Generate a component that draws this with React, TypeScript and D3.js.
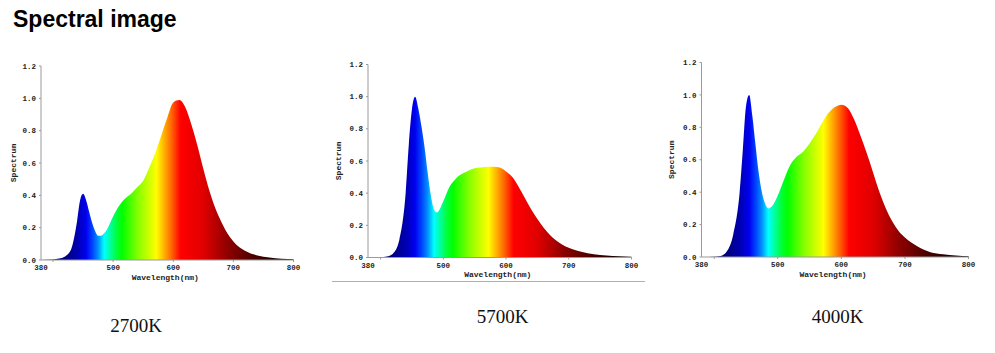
import React from "react";
import * as d3 from "d3";

// ---------- data ----------
const wavelengths = [380, 400, 410, 420, 430, 440, 445, 450, 455, 460, 465, 470, 475, 480, 485, 490, 500, 510, 520, 530, 540, 550, 560, 570, 580, 590, 600, 610, 620, 630, 640, 650, 660, 670, 680, 690, 700, 720, 740, 760, 780, 800];

const spectrum2700K = [0, 0.003, 0.009, 0.022, 0.065, 0.24, 0.37, 0.41, 0.37, 0.30, 0.23, 0.18, 0.15, 0.15, 0.165, 0.19, 0.27, 0.335, 0.38, 0.41, 0.45, 0.49, 0.57, 0.66, 0.77, 0.88, 0.975, 0.99, 0.945, 0.84, 0.71, 0.565, 0.43, 0.32, 0.235, 0.165, 0.115, 0.055, 0.028, 0.015, 0.008, 0.005];

const spectrum5700K = [0, 0.002, 0.006, 0.025, 0.11, 0.40, 0.70, 0.92, 1.0, 0.93, 0.82, 0.69, 0.53, 0.39, 0.30, 0.28, 0.35, 0.44, 0.49, 0.52, 0.54, 0.555, 0.56, 0.565, 0.565, 0.56, 0.535, 0.50, 0.44, 0.37, 0.30, 0.24, 0.185, 0.14, 0.105, 0.08, 0.06, 0.035, 0.02, 0.012, 0.007, 0.004];

const spectrum4000K = [0, 0.002, 0.006, 0.035, 0.14, 0.40, 0.66, 0.93, 1.0, 0.87, 0.69, 0.52, 0.40, 0.33, 0.30, 0.31, 0.38, 0.48, 0.57, 0.62, 0.65, 0.70, 0.76, 0.83, 0.89, 0.925, 0.94, 0.92, 0.85, 0.75, 0.64, 0.52, 0.40, 0.30, 0.22, 0.16, 0.12, 0.065, 0.03, 0.017, 0.009, 0.005];

const chartLabels = ["2700K", "5700K", "4000K"];
const yTickValues = [0, 0.2, 0.4, 0.6, 0.8, 1.0, 1.2];
const xTickMarks = [400, 500, 600, 700, 800];
const xTickLabels = [380, 500, 600, 700, 800];
const titleText = "Spectral image";

// ---------- styles ----------
const colorStops: [number, string][] = [
  [380, "#000050"],
  [420, "#000080"],
  [440, "#0000b0"],
  [455, "#0000f0"],
  [465, "#0040ff"],
  [475, "#0090ff"],
  [485, "#00ffff"],
  [495, "#00ffa0"],
  [505, "#00ff40"],
  [515, "#00ff00"],
  [540, "#80ff00"],
  [560, "#d0ff00"],
  [572, "#ffff00"],
  [585, "#ffb000"],
  [598, "#ff6000"],
  [612, "#ff0000"],
  [650, "#e00000"],
  [690, "#900000"],
  [730, "#500000"],
  [770, "#200000"],
  [800, "#000000"],
];

const panels = [
  { values: spectrum2700K, x0: 41, x1: 293.5, y0: 260, y1: 66, labelX: 136, labelY: 332, titleOff: 28 },
  { values: spectrum5700K, x0: 368, x1: 631.5, y0: 257.5, y1: 64.5, labelX: 502.5, labelY: 323, titleOff: 30 },
  { values: spectrum4000K, x0: 701.5, x1: 968.5, y0: 257, y1: 62.5, labelX: 837.5, labelY: 323, titleOff: 30 },
];

const mono = "'Liberation Mono', 'DejaVu Sans Mono', monospace";

function Panel({ idx }: { idx: number }) {
  const p = panels[idx];
  const x = d3.scaleLinear().domain([380, 800]).range([p.x0, p.x1]);
  const y = d3.scaleLinear().domain([0, 1.2]).range([p.y0, p.y1]);
  const pts = wavelengths.map((w, i) => [w, p.values[i]] as [number, number]);
  const area = d3
    .area<[number, number]>()
    .x((d) => x(d[0]))
    .y0(y(0))
    .y1((d) => y(d[1]))
    .curve(d3.curveMonotoneX);
  const gid = `spec-grad-${idx}`;
  const fmt = d3.format(".1f");
  return (
    <g>
      <defs>
        <linearGradient id={gid} gradientUnits="userSpaceOnUse" x1={x(380)} x2={x(800)} y1={0} y2={0}>
          {colorStops.map(([w, c], i) => (
            <stop key={i} offset={(w - 380) / 420} stopColor={c} />
          ))}
        </linearGradient>
      </defs>
      <path d={area(pts) || ""} fill={`url(#${gid})`} />
      {/* y axis */}
      <line x1={p.x0} x2={p.x0} y1={y(0)} y2={y(1.2)} stroke="#9a9a9a" strokeWidth={1} />
      {yTickValues.map((t) => (
        <g key={t}>
          <line x1={p.x0 - 2} x2={p.x0} y1={y(t)} y2={y(t)} stroke="#9a9a9a" />
          <text x={p.x0 - 5} y={y(t)} dy="0.35em" textAnchor="end" fontFamily={mono} fontWeight="bold" fontSize={7.5} fill="#222">
            {fmt(t)}
          </text>
        </g>
      ))}
      {/* x axis */}
      <line x1={p.x0} x2={p.x1} y1={y(0)} y2={y(0)} stroke="#9a9a9a" strokeWidth={1} />
      {xTickMarks.map((t) => (
        <line key={t} x1={x(t)} x2={x(t)} y1={y(0)} y2={y(0) + 2} stroke="#9a9a9a" />
      ))}
      {xTickLabels.map((t) => (
        <text key={t} x={x(t)} y={y(0) + 10} textAnchor="middle" fontFamily={mono} fontWeight="bold" fontSize={7.5} fill="#222">
          {t}
        </text>
      ))}
      <text x={(p.x0 + p.x1) / 2 - 2} y={y(0) + 19.5} textAnchor="middle" fontFamily={mono} fontWeight="bold" fontSize={8} fill="#222">
        Wavelength(nm)
      </text>
      <text
        transform={`translate(${p.x0 - p.titleOff},${(y(0) + y(1.2)) / 2}) rotate(-90)`}
        textAnchor="middle"
        dy="0.35em"
        fontFamily={mono}
        fontWeight="bold"
        fontSize={8}
        fill="#222"
      >
        Spectrum
      </text>
      <text x={p.labelX} y={p.labelY} textAnchor="middle" fontFamily="'Liberation Serif', 'Times New Roman', serif" fontSize={19} fill="#111">
        {chartLabels[idx]}
      </text>
    </g>
  );
}

export default function App() {
  return (
    <div style={{ position: "absolute", left: 0, top: 0 }}>
      <svg width={995} height={353} style={{ display: "block", background: "#fff" }}>
        <rect width={995} height={353} fill="#fff" />
        <text x={13} y={27} fontFamily="'Liberation Sans', Arial, sans-serif" fontWeight="bold" fontSize={23} fill="#000">
          {titleText}
        </text>
        <line x1={332} x2={645} y1={281.5} y2={281.5} stroke="#b0b0b0" strokeWidth={1} />
        {panels.map((_, i) => (
          <Panel key={i} idx={i} />
        ))}
      </svg>
    </div>
  );
}
